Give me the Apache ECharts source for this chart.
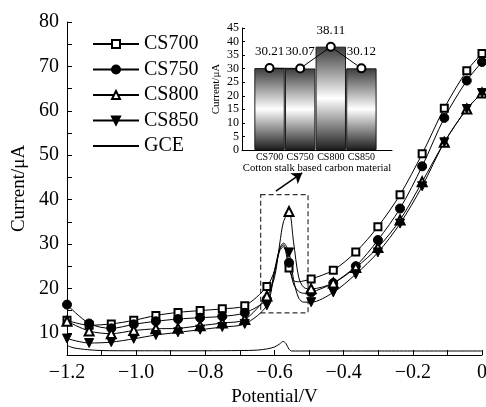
<!DOCTYPE html>
<html>
<head>
<meta charset="utf-8">
<script src="https://cdn.jsdelivr.net/npm/echarts@6/dist/echarts.min.js"></script>
<style>
  html, body { margin: 0; padding: 0; background: #fff; }
  #chart { width: 486px; height: 407px; }
</style>
</head>
<body>
<div id="chart"></div>
<script>
const FONT = '"Liberation Serif", "Times New Roman", serif';

// Sweep potentials (V); marked = 1 where a symbol is drawn on the curve
const potential = [-1.200, -1.136, -1.072, -1.007, -0.943, -0.879, -0.815, -0.751, -0.686, -0.622,
                   -0.600, -0.585, -0.574, -0.558, -0.545, -0.530, -0.515, -0.494,
                   -0.430, -0.365, -0.301, -0.237, -0.173, -0.109, -0.044, 0.000];
const marked    = [1, 1, 1, 1, 1, 1, 1, 1, 1, 1,
                   0, 0, 0, 1, 0, 0, 0, 1,
                   1, 1, 1, 1, 1, 1, 1, 1];

// Currents (μA) for each electrode
const cs700 = [12.8, 11.7, 12.0, 12.8, 13.9, 14.6, 15.0, 15.4, 16.1, 20.4,
               24.0, 28.5, 29.4, 24.6, 21.8, 21.5, 21.7, 22.1,
               24.1, 28.2, 33.9, 41.1, 50.3, 60.6, 69.0, 72.9];
const cs750 = [16.35, 12.1, 11.0, 11.9, 12.6, 13.1, 13.4, 13.7, 14.5, 17.6,
               23.5, 28.8, 29.8, 25.8, 21.0, 19.3, 18.9, 19.1,
               21.2, 25.0, 30.9, 38.0, 47.5, 58.4, 66.8, 71.0];
const cs800 = [12.6, 10.4, 9.8, 10.5, 10.9, 11.0, 11.6, 12.2, 13.0, 18.3,
               22.5, 30.0, 35.0, 37.3, 30.5, 22.5, 20.2, 19.9,
               21.2, 24.7, 29.2, 35.4, 44.0, 52.9, 60.4, 64.0];
const cs850 = [8.7, 7.7, 7.9, 8.65, 9.5, 10.1, 10.7, 11.3, 12.0, 16.2,
               24.0, 29.0, 30.2, 28.1, 22.0, 17.8, 16.9, 16.9,
               19.1, 23.2, 28.1, 34.6, 43.0, 52.9, 60.4, 64.0];

// Bare glassy carbon electrode
const gcePotential = [-1.200, -1.180, -1.140, -1.100, -1.000, -0.900, -0.800, -0.700, -0.650, -0.620,
                      -0.600, -0.585, -0.575, -0.567, -0.558, -0.550, -0.500, -0.300, 0.000];
const gceCurrent   = [7.15, 6.6, 6.2, 6.0, 5.95, 5.95, 5.95, 6.0, 6.1, 6.4,
                      6.8, 7.5, 8.05, 7.6, 6.3, 5.9, 5.9, 5.9, 5.9];

// Inset: peak current per material
const materials   = ['CS700', 'CS750', 'CS800', 'CS850'];
const peakCurrent = [30.21, 30.07, 38.11, 30.12];

// Annotation: dashed box around the reduction peak and the arrow to the inset
const zoomBox   = [[-0.640, 41.1], [-0.503, 14.5]];
const arrowPath = [[-0.596, 41.9], [-0.520, 46.0]];

const minus = v => (v < 0 ? '\u2212' : '') + Math.abs(v).toFixed(1);

function curve(name, values, symbol, size, rotate) {
  return {
    type: 'line',
    name: name,
    symbol: symbol,
    symbolSize: size,
    symbolRotate: rotate || 0,
    showAllSymbol: true,
    smooth: 0.3,
    data: potential.map((p, i) => marked[i] ? [p, values[i]] : { value: [p, values[i]], symbol: 'none' }),
    lineStyle: { color: '#000', width: 1 },
    itemStyle: { color: '#000', borderColor: '#000', borderWidth: 1 },
    emphasis: { disabled: true },
    z: 3
  };
}

const chart = echarts.init(document.getElementById('chart'), null, { renderer: 'canvas' });

chart.setOption({
  animation: false,
  backgroundColor: '#fff',
  textStyle: { fontFamily: FONT, color: '#000' },
  grid: [
    { left: 67, right: 4, top: 22, bottom: 52, containLabel: false, outerBoundsMode: 'none' },
    { left: 242, right: 94, top: 28, bottom: 257, containLabel: false, outerBoundsMode: 'none' }
  ],
  legend: {
    orient: 'vertical',
    left: 92,
    top: 34,
    padding: 0,
    itemWidth: 46,
    itemHeight: 10,
    itemGap: 5.5,
    textStyle: { fontFamily: FONT, fontSize: 20, color: '#000', lineHeight: 20 },
    data: ['CS700', 'CS750', 'CS800', 'CS850', { name: 'GCE', itemStyle: { opacity: 0 } }]
  },
  xAxis: [
    {
      type: 'value', gridIndex: 0,
      min: -1.2, max: 0, interval: 0.1,
      name: 'Potential/V', nameLocation: 'middle', nameGap: 24,
      nameTextStyle: { fontFamily: FONT, fontSize: 19, color: '#000' },
      axisLine: { show: true, onZero: false, lineStyle: { color: '#000', width: 1 } },
      axisTick: { show: true, inside: true, length: 5, lineStyle: { color: '#000' } },
      splitLine: { show: false },
      axisLabel: {
        fontFamily: FONT, fontSize: 20, color: '#000', margin: 8,
        formatter: v => {
          const k = Math.round(v * 10);
          if (k % 2 !== 0) return '';
          return k === 0 ? '0' : minus(v);
        }
      }
    },
    {
      type: 'value', gridIndex: 1,
      min: 0.1, max: 5,
      axisLine: { show: true, onZero: false, lineStyle: { color: '#000', width: 1 } },
      axisTick: { show: false },
      splitLine: { show: false },
      name: 'Cotton stalk based carbon material', nameLocation: 'middle', nameGap: 11,
      nameTextStyle: { fontFamily: FONT, fontSize: 10.7, color: '#000' },
      axisLabel: {
        customValues: [1, 2, 3, 4],
        fontFamily: FONT, fontSize: 10, color: '#000', margin: 2,
        formatter: v => {
          const r = Math.round(v);
          return Math.abs(v - r) < 1e-6 && r >= 1 && r <= materials.length ? materials[r - 1] : '';
        }
      }
    }
  ],
  yAxis: [
    {
      type: 'value', gridIndex: 0,
      min: 5, max: 80, interval: 5,
      name: 'Current/\u03bcA', nameLocation: 'middle', nameGap: 38, nameRotate: 90,
      nameTextStyle: { fontFamily: FONT, fontSize: 19, color: '#000' },
      axisLine: { show: true, onZero: false, lineStyle: { color: '#000', width: 1 } },
      axisTick: { show: true, inside: true, length: 5, lineStyle: { color: '#000' } },
      splitLine: { show: false },
      axisLabel: {
        fontFamily: FONT, fontSize: 20, color: '#000', margin: 8,
        formatter: v => (Math.round(v) % 10 === 0 ? String(Math.round(v)) : '')
      }
    },
    {
      type: 'value', gridIndex: 1,
      min: 0, max: 45, interval: 5,
      name: 'Current/\u03bcA', nameLocation: 'middle', nameGap: 20, nameRotate: 90,
      nameTextStyle: { fontFamily: FONT, fontSize: 11, color: '#000' },
      axisLine: { show: true, onZero: false, lineStyle: { color: '#000', width: 1 } },
      axisTick: { show: true, inside: true, length: 3, lineStyle: { color: '#000' } },
      splitLine: { show: false },
      axisLabel: { fontFamily: FONT, fontSize: 12, color: '#000', margin: 3 }
    }
  ],
  series: [
    curve('CS700', cs700, 'emptyRect', 7),
    curve('CS750', cs750, 'circle', 9),
    curve('CS800', cs800, 'emptyTriangle', 9),
    curve('CS850', cs850, 'triangle', 9, 180),
    {
      type: 'line',
      name: 'GCE',
      symbol: 'none',
      smooth: 0.3,
      data: gcePotential.map((p, i) => [p, gceCurrent[i]]),
      lineStyle: { color: '#000', width: 1 },
      itemStyle: { color: '#000', opacity: 0 },
      emphasis: { disabled: true },
      z: 2,
      markArea: {
        silent: true,
        label: { show: false },
        itemStyle: { color: 'rgba(0,0,0,0)', borderColor: '#333', borderWidth: 1.2, borderType: [5, 3] },
        data: [[{ coord: zoomBox[0] }, { coord: zoomBox[1] }]]
      },
      markLine: {
        silent: true,
        symbol: ['none', 'arrow'],
        symbolSize: 10,
        label: { show: false },
        lineStyle: { color: '#000', width: 1.5, type: 'solid' },
        data: [[{ coord: arrowPath[0] }, { coord: arrowPath[1] }]]
      }
    },
    {
      type: 'bar',
      name: 'peak-bars',
      xAxisIndex: 1, yAxisIndex: 1,
      barWidth: 30.4,
      data: materials.map((m, i) => [i + 1, peakCurrent[i]]),
      itemStyle: {
        color: {
          type: 'linear', x: 0, y: 0, x2: 0, y2: 1,
          colorStops: [
            { offset: 0, color: '#3c3c3c' },
            { offset: 0.5, color: '#ffffff' },
            { offset: 1, color: '#1c1c1c' }
          ]
        },
        borderColor: '#1a1a1a', borderWidth: 1
      },
      emphasis: { disabled: true },
      z: 2
    },
    {
      type: 'line',
      name: 'peak-trend',
      xAxisIndex: 1, yAxisIndex: 1,
      data: materials.map((m, i) => [i + 1, peakCurrent[i]]),
      symbol: 'emptyCircle',
      symbolSize: 8,
      lineStyle: { color: '#000', width: 1 },
      itemStyle: { color: '#000', borderColor: '#000', borderWidth: 2 },
      label: {
        show: true, position: 'top', distance: 5,
        fontFamily: FONT, fontSize: 13, color: '#000',
        formatter: p => p.value[1].toFixed(2)
      },
      emphasis: { disabled: true },
      z: 4
    }
  ]
});
</script>
</body>
</html>
